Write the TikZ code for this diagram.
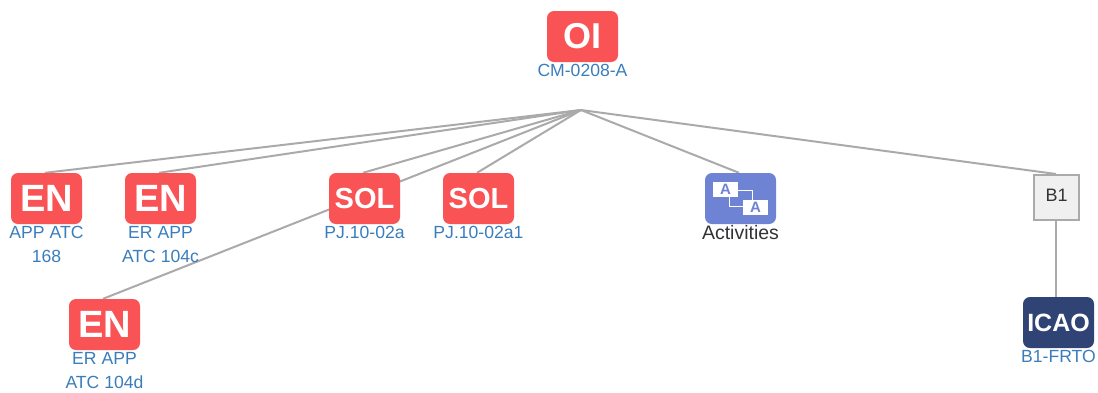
\documentclass[tikz,border=0pt]{standalone}
\usepackage{fontspec}
\setmainfont{Liberation Sans}
\usetikzlibrary{positioning,backgrounds}
\definecolor{oired}{HTML}{F95355}
\definecolor{icaoblue}{HTML}{2F4374}
\definecolor{actblue}{HTML}{6F83D4}
\definecolor{capblue}{HTML}{3A7DBB}
\definecolor{linkgray}{HTML}{AAAAAA}
\tikzset{
    box/.style={minimum width=71pt,minimum height=51pt,inner sep=0pt,rounded corners=7pt,text=white},
    redbox/.style={box,fill=oired,font=\bfseries\fontsize{#1}{#1}\selectfont},
    caption/.style={inner sep=0pt,align=center,text=capblue,font=\fontsize{17.6}{24}\selectfont},
    link/.style={draw=linkgray,line width=2pt},
    iconA/.style={fill=white,minimum width=25pt,minimum height=15pt,inner sep=0pt,text=actblue,font=\bfseries\fontsize{15}{15}\selectfont}
}
\begin{document}
\begin{tikzpicture}[x=1pt,y=-1pt,node distance=2pt]
    \useasboundingbox (0,0) rectangle (1098,392);
    \coordinate (hub) at (581,110);
    \node[redbox=36] (OI_0) at (582.5,36.5) {OI};
    \node[caption,below=of OI_0] (OI_0_cap) {CM-0208-A};
    \node[redbox=38] (EN_0) at (46.5,198.5) {EN};
    \node[redbox=38] (EN_1) at (160.5,198.5) {EN};
    \node[redbox=38] (EN_2) at (104.5,324.5) {EN};
    \node[redbox=29] (SOL_0) at (364.5,198.5) {SOL};
    \node[redbox=29] (SOL_1) at (478.5,198.5) {SOL};
    \node[box,fill=actblue] (ACT_0) at (740.5,198.5) {};
    \node[iconA] (A_0) at (725.5,189.2) {A};
    \node[iconA] (A_1) at (755.5,207.5) {A};
    \node[draw=linkgray,fill=black!6,line width=2pt,minimum size=45pt,inner sep=0pt,text depth=4.5pt,text=black!80,font=\fontsize{18}{18}\selectfont] (B_1) at (1056.5,197.5) {B1};
    \node[box,fill=icaoblue,font=\bfseries\fontsize{25}{25}\selectfont] (ICAO_0) at (1058.5,322.5) {ICAO};
    \node[caption,below=of EN_0] (EN_0_cap) {APP ATC\\168};
    \node[caption,below=of EN_1] (EN_1_cap) {ER APP\\ATC 104c};
    \node[caption,below=of EN_2] (EN_2_cap) {ER APP\\ATC 104d};
    \node[caption,below=of SOL_0] (SOL_0_cap) {PJ.10-02a};
    \node[caption,below=of SOL_1] (SOL_1_cap) {PJ.10-02a1};
    \node[caption,below=1pt of ACT_0,text=black!80,font=\fontsize{19.5}{24}\selectfont] (ACT_0_cap) {Activities};
    \node[caption,below=of ICAO_0] (ICAO_0_cap) {B1-FRTO};
    \draw[white,line width=1pt] ([yshift=-1.5pt]A_0.east) -| ([xshift=-3pt]A_1.north)
        ([xshift=3.5pt]A_0.south) |- ([yshift=1.5pt]A_1.west);
    \begin{scope}[on background layer]
        \path[link]
            (hub) edge ([xshift=-1.5pt]EN_0.north)
                  edge ([xshift=-1.5pt]EN_1.north)
                  edge ([xshift=-1.5pt]EN_2.north)
                  edge ([xshift=-1.5pt]SOL_0.north)
                  edge ([xshift=-1.5pt]SOL_1.north)
                  edge ([xshift=-1.5pt]ACT_0.north)
                  edge ([xshift=-0.5pt]B_1.north)
            ([xshift=-0.5pt]B_1.south) edge ([xshift=-0.5pt]B_1.south |- ICAO_0.north);
    \end{scope}
\end{tikzpicture}
\end{document}
